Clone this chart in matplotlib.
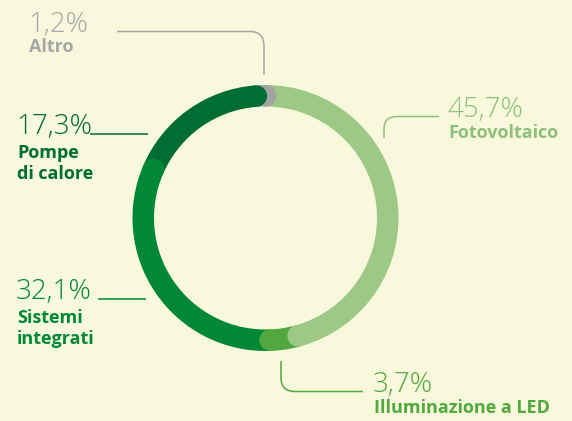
import numpy as np
import matplotlib.pyplot as plt
from matplotlib.patches import Wedge, Circle, PathPatch
from matplotlib.path import Path

# dati (in senso orario partendo dall'alto)
categorie = ["Fotovoltaico", "Illuminazione a LED", "Sistemi integrati", "Pompe di calore", "Altro"]
valori = [45.7, 3.7, 32.1, 17.3, 1.2]
etichette = [["Fotovoltaico"], ["Illuminazione a LED"], ["Sistemi", "integrati"],
             ["Pompe", "di calore"], ["Altro"]]
colori = ["#9dc885", "#52a83e", "#008837", "#006d32", "#a3a3a3"]
colori_testo = ["#8dc07a", "#52a83e", "#00883a", "#006d32", "#a6a6a6"]

sfondo = "#f8f8dc"
fig = plt.figure(figsize=(5.72, 4.21), dpi=100, facecolor=sfondo)
ax = fig.add_axes([0, 0, 1, 1])
ax.set_facecolor(sfondo)
ax.set_xlim(0, 572)
ax.set_ylim(421, 0)
ax.set_aspect("equal")
ax.axis("off")

cx, cy = 265.5, 218.0
r_ext, spessore = 133.0, 21.5
r_mid = r_ext - spessore / 2

# anello: angoli sullo schermo, senso orario dall'alto
cum = np.concatenate([[0], np.cumsum(valori)])
ang = 90 - cum * 3.6
for i in range(len(valori)):
    a, b = ang[i], ang[i + 1]
    ax.add_patch(Wedge((cx, cy), r_ext, -a, -b, width=spessore,
                       facecolor=colori[i], edgecolor="none", zorder=2))
# estremità arrotondate sopra il segmento successivo (ordine inverso)
for i in reversed(range(len(valori))):
    b = np.radians(ang[i + 1])
    ax.add_patch(Circle((cx + r_mid * np.cos(b), cy - r_mid * np.sin(b)), spessore / 2,
                        facecolor=colori[i], edgecolor="none", zorder=3))

def linea(punti, codici, colore):
    ax.add_patch(PathPatch(Path(punti, codici), facecolor="none", edgecolor=colore,
                           lw=1.1, zorder=4, capstyle="butt"))

M, L, C = Path.MOVETO, Path.LINETO, Path.CURVE3
# linee guida
linea([(117, 31.5), (250, 31.5), (264, 31.5), (264, 46), (264, 75)], [M, L, C, C, L], colori_testo[4])
linea([(439, 116.5), (397, 116.5), (384, 116.5), (384, 129), (384, 138)], [M, L, C, C, L], colori_testo[0])
linea([(90, 133.5), (148, 133.5)], [M, L], colori_testo[3])
linea([(98, 299), (146, 299)], [M, L], colori_testo[2])
linea([(281, 361), (281, 378), (281, 391.5), (295, 391.5), (363, 391.5)], [M, L, C, C, L], colori_testo[1])

# testi: percentuale e etichetta
pos = {
    0: (447, 117, 138),
    1: (373, 392, 413),
    2: (16, 299, 323),
    3: (16, 134, 158),
    4: (28, 32, 52),
}
font_num = dict(family=["Open Sans", "DejaVu Sans"], fontweight="light", fontsize=20)
font_lab = dict(family=["Open Sans", "DejaVu Sans"], fontweight="bold", fontsize=13)
for i in range(len(valori)):
    x, y_num, y_lab = pos[i]
    ax.text(x, y_num, f"{valori[i]:.1f}%".replace(".", ","), color=colori_testo[i],
            ha="left", va="baseline", zorder=5, **font_num)
    for k, riga in enumerate(etichette[i]):
        ax.text(x + 1, y_lab + k * 21, riga, color=colori_testo[i],
                ha="left", va="baseline", zorder=5, **font_lab)

fig.savefig("out.png", dpi=100, facecolor=sfondo)
